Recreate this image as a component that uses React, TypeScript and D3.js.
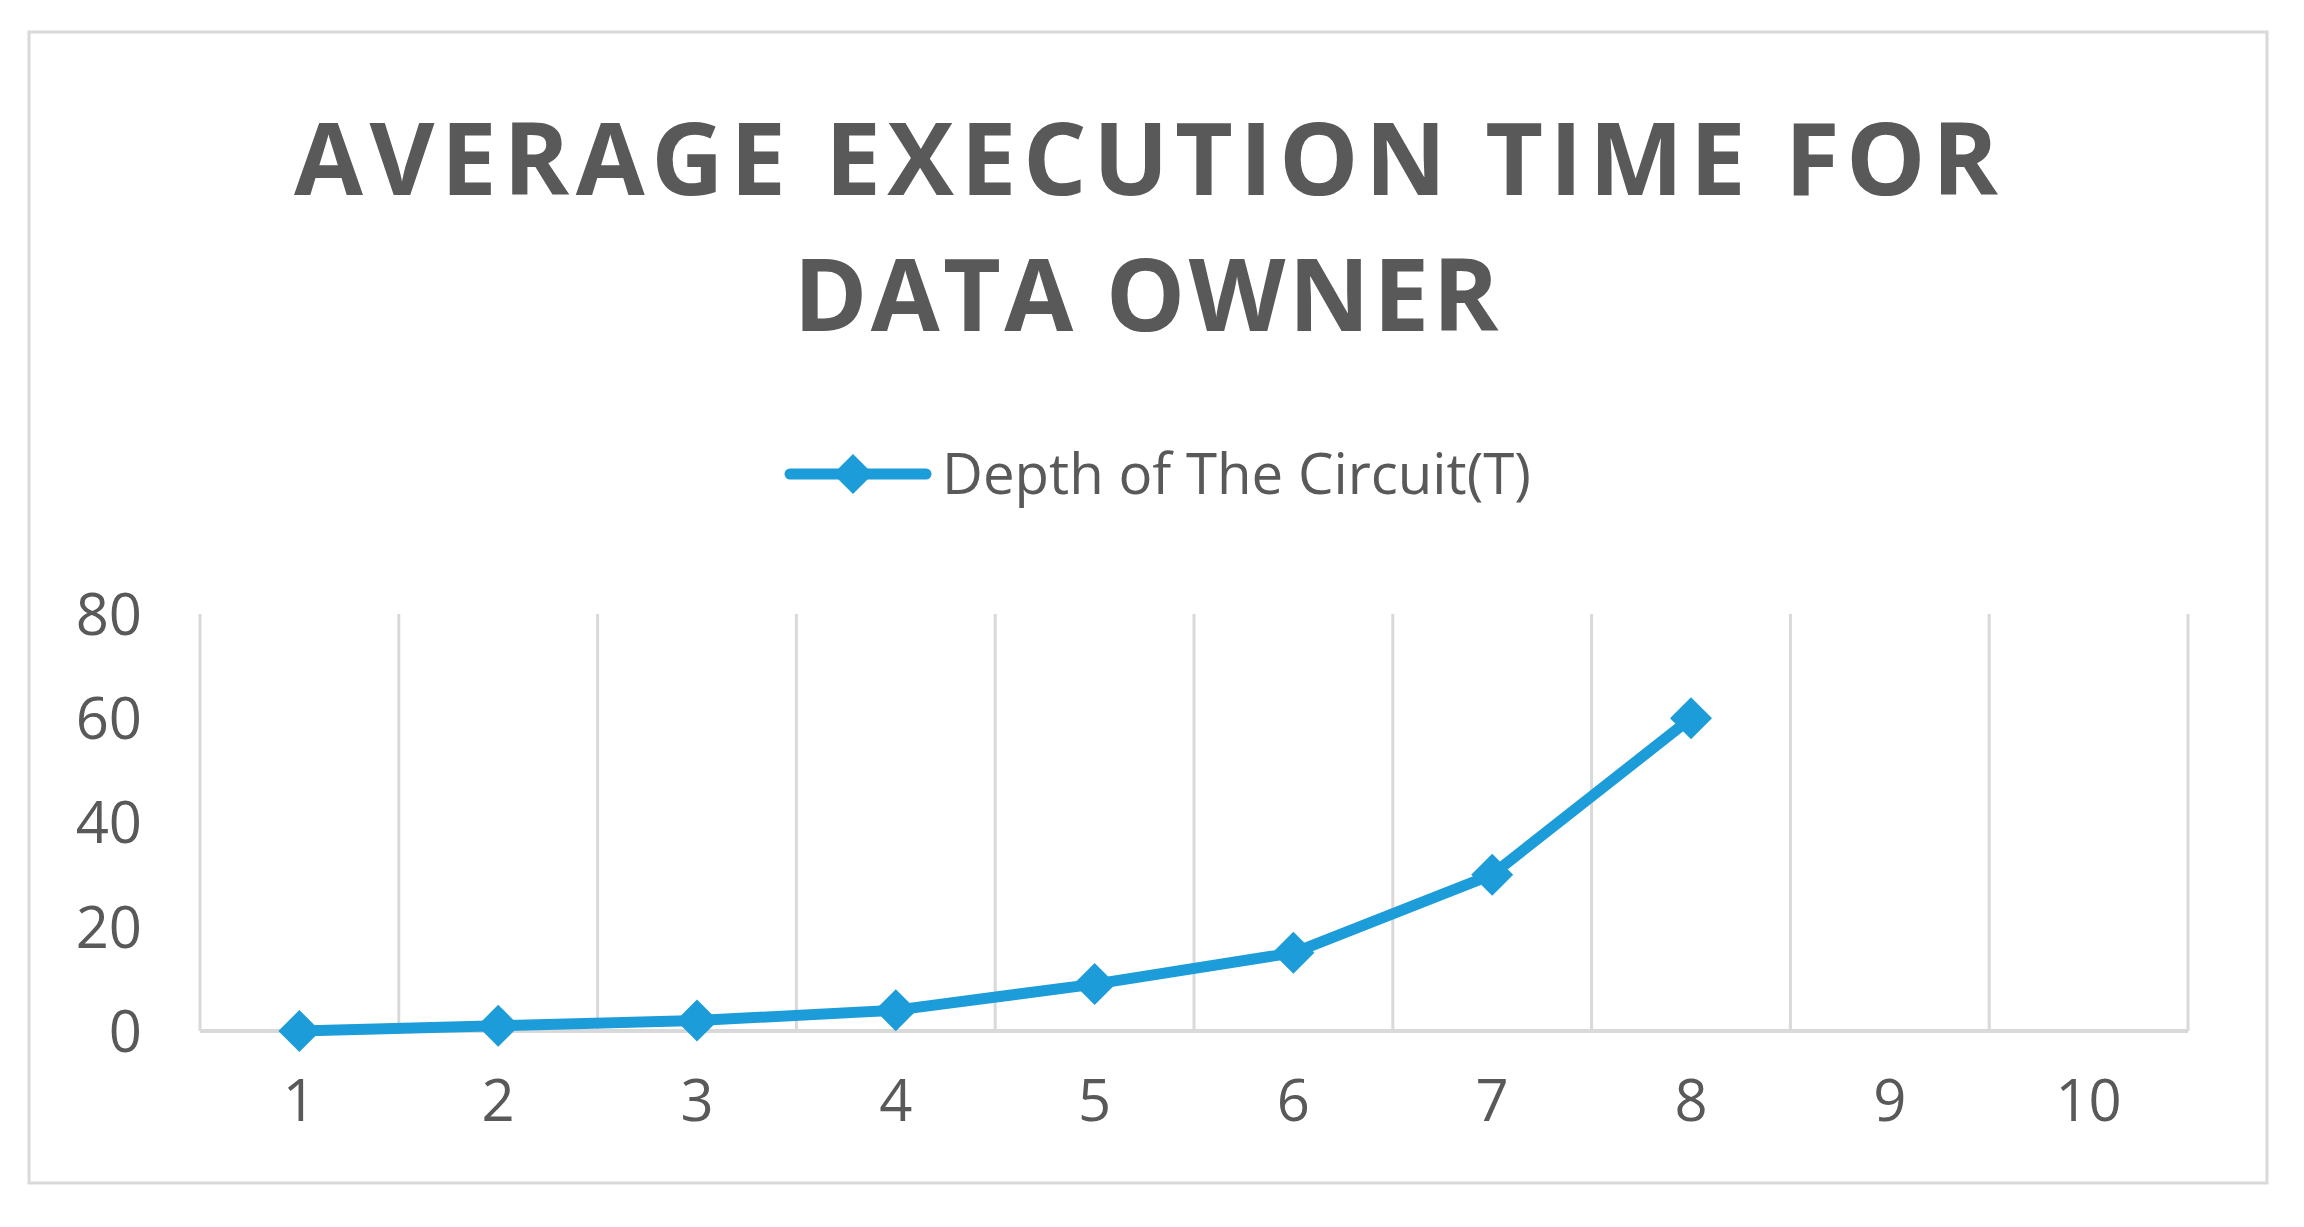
import React from "react";
import * as d3 from "d3";

const categories = ["1", "2", "3", "4", "5", "6", "7", "8", "9", "10"];
const seriesValues: (number | null)[] = [0, 1, 2, 4, 9, 15, 30, 60, null, null];
const yTicks = [0, 20, 40, 60, 80];
const titleLines = ["AVERAGE EXECUTION TIME FOR", "DATA OWNER"];
const seriesName = "Depth of The Circuit(T)";

const W = 2304;
const H = 1227;
const BLUE = "#1C9CD8";
const GRID = "#D9D9D9";
const TEXT = "#595959";
const FONT = "'Open Sans', 'Noto Sans', sans-serif";

export default function App() {
  const x = d3.scaleBand<string>().domain(categories).range([200, 2188]).padding(0);
  const y = d3.scaleLinear().domain([0, 80]).range([1031, 614]);
  const bw = x.bandwidth();
  const cx = (c: string) => (x(c) as number) + bw / 2;

  const pts = categories
    .map((c, i) => ({ c, v: seriesValues[i] }))
    .filter((d) => d.v !== null) as { c: string; v: number }[];

  const line = d3
    .line<{ c: string; v: number }>()
    .x((d) => cx(d.c))
    .y((d) => y(d.v));

  const gridXs = categories.map((c) => x(c) as number).concat([x.range()[1]]);
  const diamond = (px: number, py: number, r: number) =>
    `M${px},${py - r}L${px + r},${py}L${px},${py + r}L${px - r},${py}Z`;

  return (
    <svg
      width={W}
      height={H}
      style={{ position: "absolute", left: 0, top: 0, background: "#fff" }}
      fontFamily={FONT}
    >
      <rect x={0} y={0} width={W} height={H} fill="#fff" />
      <rect x={29} y={32} width={2238} height={1151} fill="#fff" stroke={GRID} strokeWidth={3} />

      {/* Title */}
      <text x={1146} y={195} textAnchor="middle" fontSize={100} fontWeight={700} fill={TEXT}
        textLength={1704} lengthAdjust="spacing">
        {titleLines[0]}
      </text>
      <text x={1146} y={331} textAnchor="middle" fontSize={100} fontWeight={700} fill={TEXT}
        textLength={705} lengthAdjust="spacing">
        {titleLines[1]}
      </text>

      {/* Legend */}
      <line x1={790} x2={926} y1={474} y2={474} stroke={BLUE} strokeWidth={11} strokeLinecap="round" />
      <path d={diamond(853, 474, 20)} fill={BLUE} />
      <text x={942} y={494} fontSize={56} fill={TEXT} textLength={589} lengthAdjust="spacingAndGlyphs">
        {seriesName}
      </text>

      {/* Vertical gridlines */}
      {gridXs.map((gx, i) => (
        <line key={i} x1={gx} x2={gx} y1={y(80)} y2={y(0)} stroke={GRID} strokeWidth={3} />
      ))}
      {/* X axis line */}
      <line x1={x.range()[0]} x2={x.range()[1]} y1={y(0)} y2={y(0)} stroke={GRID} strokeWidth={4} />

      {/* Y tick labels */}
      {yTicks.map((t) => (
        <text key={t} x={142} y={y(t)} dy="0.36em" textAnchor="end" fontSize={58} fill={TEXT}>
          {t}
        </text>
      ))}
      {/* X tick labels */}
      {categories.map((c) => (
        <text key={c} x={cx(c)} y={1121} textAnchor="middle" fontSize={58} fill={TEXT}>
          {c}
        </text>
      ))}

      {/* Series */}
      <path d={line(pts) || ""} fill="none" stroke={BLUE} strokeWidth={11} strokeLinejoin="round" />
      {pts.map((d) => (
        <path key={d.c} d={diamond(cx(d.c), y(d.v), 21)} fill={BLUE} />
      ))}
    </svg>
  );
}
